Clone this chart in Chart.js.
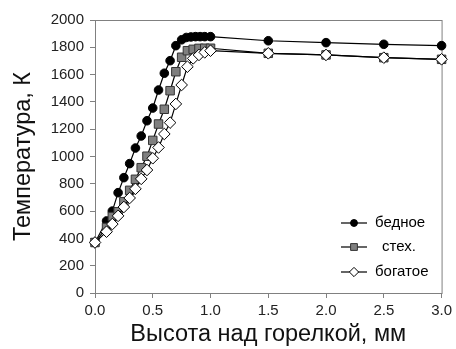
<!DOCTYPE html>
<html>
<head>
<meta charset="utf-8">
<script src="https://cdn.jsdelivr.net/npm/chart.js@4"></script>
<style>
  html, body { margin: 0; padding: 0; background: #fff; }
  #wrap { width: 456px; height: 349px; }
</style>
</head>
<body>
<div id="wrap"><canvas id="tempChart" width="456" height="349"></canvas></div>
<script>
// Height above burner, mm
const xLean = [0, 0.1, 0.15, 0.2, 0.25, 0.3, 0.35, 0.4, 0.45, 0.5, 0.55, 0.6, 0.65, 0.7, 0.75, 0.79, 0.83, 0.87, 0.91, 0.95, 1.0, 1.5, 2.0, 2.5, 3.0];
const xStoich = [0, 0.1, 0.15, 0.2, 0.25, 0.3, 0.35, 0.4, 0.45, 0.5, 0.55, 0.6, 0.65, 0.7, 0.75, 0.8, 0.85, 0.9, 0.95, 1.0, 1.5, 2.0, 2.5, 3.0];
const xRich = [0, 0.1, 0.15, 0.2, 0.25, 0.3, 0.35, 0.4, 0.45, 0.5, 0.55, 0.6, 0.65, 0.7, 0.75, 0.8, 0.85, 0.9, 0.95, 1.0, 1.5, 2.0, 2.5, 3.0];

// Temperature, K
const tLean = [370, 528, 600, 735, 845, 948, 1062, 1150, 1262, 1355, 1487, 1610, 1702, 1812, 1855, 1872, 1876, 1878, 1878, 1878, 1878, 1848, 1834, 1822, 1812];
const tStoich = [370, 480, 560, 595, 669, 752, 833, 918, 1002, 1118, 1238, 1346, 1482, 1621, 1727, 1775, 1785, 1792, 1793, 1793, 1756, 1744, 1724, 1712];
const tRich = [370, 449, 505, 565, 630, 696, 763, 836, 901, 987, 1066, 1165, 1248, 1385, 1524, 1658, 1719, 1744, 1763, 1775, 1756, 1744, 1724, 1712];

const seriesNames = ["бедное", "стех.", "богатое"];
const yTicks = [0, 200, 400, 600, 800, 1000, 1200, 1400, 1600, 1800, 2000];
const xTicks = [0, 0.5, 1.0, 1.5, 2.0, 2.5, 3.0];

const FONT = "'Liberation Sans', Arial, sans-serif";

function pairs(xs, ys) {
    return xs.map((x, i) => ({ x: x, y: ys[i] }));
}

// Box around the plot area (top and right edges too)
const frame = {
    id: "frame",
    beforeDatasetsDraw(chart) {
        const { ctx, chartArea: a } = chart;
        ctx.save();
        ctx.strokeStyle = "#808080";
        ctx.lineWidth = 1;
        ctx.strokeRect(a.left + 0.5, a.top + 0.5, a.right - a.left, a.bottom - a.top);
        ctx.restore();
    }
};

function drawMarker(ctx, style, x, y, r) {
    if (style === "circle") {
        ctx.arc(x, y, r, 0, Math.PI * 2);
    } else if (style === "rect") {
        const s = r * Math.SQRT1_2;
        ctx.rect(x - s, y - s, s * 2, s * 2);
    } else {
        ctx.moveTo(x, y - r);
        ctx.lineTo(x + r, y);
        ctx.lineTo(x, y + r);
        ctx.lineTo(x - r, y);
        ctx.closePath();
    }
}

// Legend drawn inside the plot, lower right
const insideLegend = {
    id: "insideLegend",
    afterDraw(chart) {
        const ctx = chart.ctx;
        const lx = 341;
        const rows = [223, 247, 272];
        const textX = [375, 382, 375];
        ctx.save();
        chart.data.datasets.forEach((ds, i) => {
            const y = rows[i];
            ctx.strokeStyle = "#000";
            ctx.lineWidth = 1.2;
            ctx.beginPath();
            ctx.moveTo(lx, y);
            ctx.lineTo(lx + 26, y);
            ctx.stroke();
            ctx.fillStyle = ds.pointBackgroundColor;
            ctx.strokeStyle = ds.pointBorderColor;
            ctx.lineWidth = ds.pointBorderWidth;
            ctx.beginPath();
            drawMarker(ctx, ds.pointStyle, lx + 13, y, ds.pointRadius * 0.8);
            ctx.fill();
            ctx.stroke();
            ctx.fillStyle = "#000";
            ctx.font = "15px " + FONT;
            ctx.textBaseline = "middle";
            ctx.fillText(seriesNames[i], textX[i], y);
        });
        ctx.restore();
    }
};

const ctx = document.getElementById("tempChart");

new Chart(ctx, {
    type: "line",
    data: {
        datasets: [
            {
                label: seriesNames[0],
                data: pairs(xLean, tLean),
                borderColor: "#000",
                borderWidth: 1.2,
                pointStyle: "circle",
                pointRadius: 4.3,
                pointBackgroundColor: "#000",
                pointBorderColor: "#000",
                pointBorderWidth: 1,
                clip: false,
                order: 3
            },
            {
                label: seriesNames[1],
                data: pairs(xStoich, tStoich),
                borderColor: "#000",
                borderWidth: 1.2,
                pointStyle: "rect",
                pointRadius: 6,
                pointBackgroundColor: "#7f7f7f",
                pointBorderColor: "#333",
                pointBorderWidth: 1,
                clip: false,
                order: 2
            },
            {
                label: seriesNames[2],
                data: pairs(xRich, tRich),
                borderColor: "#000",
                borderWidth: 1.2,
                pointStyle: "rectRot",
                pointRadius: 5.8,
                pointBackgroundColor: "#fff",
                pointBorderColor: "#000",
                pointBorderWidth: 1,
                clip: false,
                order: 1
            }
        ]
    },
    options: {
        responsive: false,
        animation: false,
        layout: { padding: { top: 20, right: 14, left: 0, bottom: 0 } },
        plugins: {
            legend: { display: false },
            tooltip: { enabled: false }
        },
        scales: {
            x: {
                type: "linear",
                min: 0,
                max: 3,
                afterBuildTicks: s => { s.ticks = xTicks.map(v => ({ value: v })); },
                afterFit: s => { s.height = 56; },
                ticks: {
                    color: "#222",
                    font: { family: FONT, size: 15 },
                    padding: 4,
                    maxRotation: 0,
                    callback: v => Number(v).toFixed(1)
                },
                grid: { drawOnChartArea: false, drawTicks: true, tickLength: 5, color: "#808080" },
                border: { color: "#808080" },
                title: {
                    display: true,
                    text: "Высота над горелкой, мм",
                    color: "#111",
                    font: { family: FONT, size: 23.5 },
                    padding: { top: 0, bottom: 0 }
                }
            },
            y: {
                min: 0,
                max: 2000,
                afterBuildTicks: s => { s.ticks = yTicks.map(v => ({ value: v })); },
                afterFit: s => { s.width = 95; },
                ticks: {
                    color: "#222",
                    font: { family: FONT, size: 15 },
                    padding: 6,
                    callback: v => String(v)
                },
                grid: { drawOnChartArea: false, drawTicks: true, tickLength: 5, color: "#808080" },
                border: { color: "#808080" },
                title: {
                    display: true,
                    text: "Температура, К",
                    color: "#111",
                    font: { family: FONT, size: 23.5 },
                    padding: { top: 9, bottom: 0 }
                }
            }
        }
    },
    plugins: [frame, insideLegend]
});
</script>
</body>
</html>
